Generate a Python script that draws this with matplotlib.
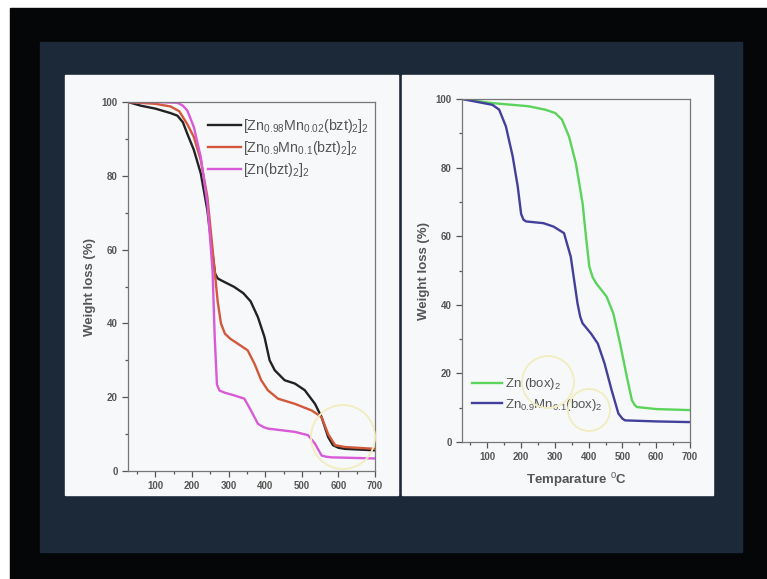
import numpy as np
import matplotlib
matplotlib.use("Agg")
from matplotlib import pyplot as plt
from matplotlib.patches import Rectangle, Ellipse
from matplotlib.ticker import MultipleLocator

plt.rcParams['font.family'] = ['Liberation Sans', 'DejaVu Sans']
plt.rcParams['mathtext.fontset'] = 'custom'
plt.rcParams['mathtext.rm'] = 'Liberation Sans'
plt.rcParams['mathtext.it'] = 'Liberation Sans:italic'

# left panel: bzt complexes (temperature, weight %)
bzt_098_x = [25, 60, 100, 141, 160, 175, 187, 205, 224, 242, 256, 263, 270, 279, 315, 340, 360, 380, 398,
             412, 426, 453, 481, 508, 536, 554, 572, 585, 600, 618, 700]
bzt_098_y = [100, 99, 98.2, 97, 96.3, 94.5, 91.4, 87, 80.6, 70.6, 58.9, 53.5, 52.2, 51.7, 49.9, 48.2, 46, 41.7, 36.3,
             30, 27.3, 24.6, 23.7, 21.9, 18.2, 14.6, 9.2, 7, 6.3, 6, 5.6]
bzt_09_x = [25, 100, 141, 165, 187, 205, 224, 242, 260, 270, 279, 290, 305, 325, 352, 371, 389,
            407, 435, 481, 527, 554, 572, 591, 618, 700]
bzt_09_y = [100, 99.5, 98.8, 97.5, 94, 90.5, 84.2, 74.2, 56.2, 46, 40, 37.2, 35.8, 34.5, 32.7, 29, 24.6,
            21.9, 19.6, 18.2, 16.4, 14.6, 10, 7, 6.5, 6]
bzt_zn_x = [25, 100, 160, 175, 187, 205, 224, 242, 256, 262, 268, 275, 290, 315, 343, 361, 380, 395, 407,
            481, 517, 536, 554, 565, 580, 700]
bzt_zn_y = [100, 100, 99.8, 99, 97.7, 93.2, 85, 72.4, 54.4, 36.3, 23.5, 21.8, 21.2, 20.5, 19.6, 16.4, 12.8, 11.9, 11.5,
            10.6, 9.7, 7.4, 4.2, 3.9, 3.7, 3.4]

# right panel: box complexes
box_zn_x = [25, 115, 221, 271, 301, 321, 342, 362, 382, 392, 402, 412, 422, 453, 473, 493, 513,
            528, 536, 543, 600, 700]
box_zn_y = [100, 98.8, 97.9, 96.9, 95.9, 94, 89, 81.3, 69.6, 59.9, 51.1, 48, 46.3, 42.4, 37.5, 28.7, 19,
            12.2, 10.8, 10.2, 9.6, 9.3]
box_mn_x = [25, 115, 135, 155, 175, 190, 200, 207, 215, 266, 296, 327, 347, 367, 375, 382, 407, 427,
            447, 468, 488, 500, 508, 600, 700]
box_mn_y = [100, 98.3, 96.9, 92, 83.3, 74.5, 66.5, 64.8, 64.3, 63.8, 62.8, 60.9, 54, 40.4, 36.5, 34.6, 31.6, 28.7,
            22.9, 15.1, 8.3, 6.8, 6.3, 6, 5.8]

W, H = 767, 579
fig = plt.figure(figsize=(W / 100, H / 100), dpi=100, facecolor="white")


def rect(x0, y0, x1, y1, color):
    # pixel box (top-left origin) -> figure fraction
    fig.patches.append(Rectangle((x0 / W, 1 - y1 / H), (x1 - x0) / W, (y1 - y0) / H,
                                 transform=fig.transFigure, color=color, zorder=-10))


def ring(cx, cy, r):
    fig.patches.append(Ellipse((cx / W, 1 - cy / H), 2 * r / W, 2 * r / H,
                               transform=fig.transFigure, fill=False,
                               edgecolor="#f1edbe", linewidth=1.3, zorder=10))


rect(10, 8, W, H, "#050608")
rect(40, 42, 742, 552, "#1c2938")
rect(65, 75, 398, 495, "#f7f8f9")
rect(402, 75, 713, 495, "#f7f8f9")


def style(ax):
    ax.set_facecolor("#f7f8f9")
    ax.set_xlim(25, 700)
    ax.set_ylim(0, 100)
    ax.xaxis.set_major_locator(MultipleLocator(100))
    ax.xaxis.set_minor_locator(MultipleLocator(50))
    ax.yaxis.set_major_locator(MultipleLocator(20))
    ax.yaxis.set_minor_locator(MultipleLocator(10))
    ax.tick_params(which="both", direction="out", colors="#555555", labelcolor="#555555",
                   labelsize=7, width=0.9)
    ax.tick_params(which="major", length=4)
    ax.tick_params(which="minor", length=2)
    for lab in ax.get_xticklabels() + ax.get_yticklabels():
        lab.set_fontweight("bold")
    for s in ax.spines.values():
        s.set_color("#777777")
        s.set_linewidth(0.9)
    ax.set_ylabel("Weight loss (%)", fontsize=9.5, fontweight="bold", color="#555555", labelpad=4)


ax1 = fig.add_axes([128 / W, 1 - 471 / H, 247 / W, 369 / H])
style(ax1)
ax1.plot(bzt_098_x, bzt_098_y, color="#222222", lw=1.7,
         label=r"[Zn$_{0.98}$Mn$_{0.02}$(bzt)$_2$]$_2$")
ax1.plot(bzt_09_x, bzt_09_y, color="#d2583c", lw=1.7,
         label=r"[Zn$_{0.9}$Mn$_{0.1}$(bzt)$_2$]$_2$")
ax1.plot(bzt_zn_x, bzt_zn_y, color="#d85ad8", lw=1.7,
         label=r"[Zn(bzt)$_2$]$_2$")
ax1.legend(loc="upper right", bbox_to_anchor=(1.03, 0.995), frameon=False, fontsize=10.3,
           handlelength=2.3, handletextpad=0.2, labelspacing=0.3, labelcolor="#555555")

ax2 = fig.add_axes([462 / W, 1 - 442 / H, 228 / W, 343 / H])
style(ax2)
ax2.plot(box_zn_x, box_zn_y, color="#5cd45c", lw=1.7, label=r"Zn (box)$_2$")
ax2.plot(box_mn_x, box_mn_y, color="#43409c", lw=1.7, label=r"Zn$_{0.9}$Mn$_{0.1}$(box)$_2$")
ax2.legend(loc="lower left", bbox_to_anchor=(-0.01, 0.05), frameon=False, fontsize=9.5,
           handlelength=2.3, handletextpad=0.2, labelspacing=0.35, labelcolor="#555555")
ax2.set_xlabel(r"Temparature $^0$C", fontsize=9.5, fontweight="bold", color="#555555", labelpad=6)

ring(343, 437, 32)
ring(548, 382, 26)
ring(589, 410, 21)

fig.savefig("out.png", dpi=100, facecolor=fig.get_facecolor())
